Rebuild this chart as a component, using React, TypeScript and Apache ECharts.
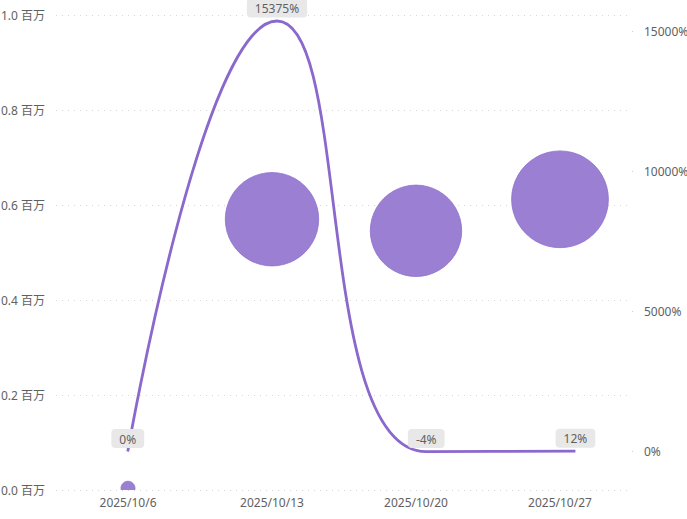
import React, { useEffect, useRef } from "react";
import * as echarts from "echarts";

const categories = ["2025/10/6", "2025/10/13", "2025/10/20", "2025/10/27"];
const volumes = [3690, 570000, 545700, 612000];
const growthPct = [0, 15375, -4, 12];
const rightTickValues = [0, 5000, 10000, 15000];

const FONT = "'Noto Sans', 'Noto Sans CJK SC', sans-serif";
const BUBBLE = "#9a7fd3";
const LINE = "#8a68cc";

export default function App() {
  const ref = useRef<HTMLDivElement>(null);
  useEffect(() => {
    document.body.style.margin = "0";
    if (!ref.current) return;
    const chart = echarts.init(ref.current, undefined, { renderer: "svg" });
    const option: any = {
      animation: false,
      textStyle: { fontFamily: FONT },
      grid: {
        left: 56,
        right: 55,
        top: 15,
        bottom: 29,
        containLabel: false,
        outerBoundsMode: "none",
      },
      xAxis: [
        {
          type: "category",
          data: categories,
          boundaryGap: true,
          axisLine: { show: false },
          axisTick: { show: false },
          axisLabel: { color: "#616161", fontSize: 12, margin: 6, fontFamily: FONT },
          splitLine: { show: false },
        },
        {
          type: "value",
          show: false,
          min: -0.481,
          max: 3.379,
        },
      ],
      yAxis: [
        {
          type: "value",
          min: 0,
          max: 1000000,
          interval: 200000,
          position: "left",
          axisLine: { show: false },
          axisTick: { show: false },
          axisLabel: {
            color: "#616161",
            fontSize: 12,
            margin: 11,
            fontFamily: FONT,
            formatter: (v: number) => (v / 1000000).toFixed(1) + " 百万",
          },
          splitLine: { show: true, lineStyle: { color: "#d6d6d6", type: [1, 5], width: 1 } },
        },
        {
          type: "value",
          min: -1375,
          max: 15590,
          position: "right",
          axisLine: { show: false },
          axisTick: {
            show: true,
            length: 4,
            customValues: rightTickValues,
            lineStyle: { color: "#cfcfcf", type: [1, 3] },
          },
          axisLabel: {
            color: "#616161",
            fontSize: 12,
            margin: 12,
            fontFamily: FONT,
            customValues: rightTickValues,
            formatter: (v: number) => v + "%",
          },
          splitLine: { show: false },
        },
      ],
      series: [
        {
          type: "custom",
          xAxisIndex: 0,
          yAxisIndex: 0,
          clip: true,
          data: volumes.map((v, i) => [i, v]),
          renderItem: (params: any, api: any) => {
            const idx = api.value(0);
            const val = api.value(1);
            const p = api.coord([idx, val]);
            const d = Math.max(14, 123.7 * Math.sqrt(val / 1000000));
            return {
              type: "circle",
              shape: { cx: p[0], cy: p[1], r: d / 2 },
              style: { fill: BUBBLE, stroke: "#8e70cd", lineWidth: 0.8 },
            };
          },
          z: 2,
        },
        {
          type: "line",
          xAxisIndex: 1,
          yAxisIndex: 1,
          data: growthPct.map((v, i) => [i, v]),
          smooth: true,
          symbol: "circle",
          symbolSize: 1,
          showSymbol: true,
          lineStyle: { color: LINE, width: 2.8 },
          itemStyle: { color: "rgba(0,0,0,0)" },
          label: {
            show: true,
            position: "top",
            distance: 3,
            formatter: (p: any) => p.value[1] + "%",
            color: "#616161",
            fontSize: 12,
            fontFamily: FONT,
            backgroundColor: "#e8e8e8",
            borderRadius: 4,
            padding: [4, 8, 3, 8],
          },
          z: 3,
        },
      ],
    };
    chart.setOption(option);
    return () => chart.dispose();
  }, []);
  return <div ref={ref} style={{ width: 687, height: 519 }} />;
}
